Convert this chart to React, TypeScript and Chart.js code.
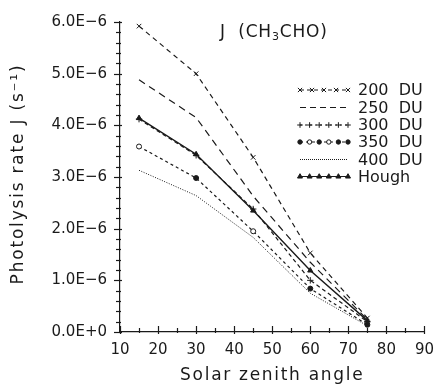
import React, { useEffect, useRef } from "react";
import { Chart, registerables } from "chart.js";

Chart.register(...registerables);

const angles = [15, 30, 45, 60, 75];
const du200 = [5.92e-6, 5.0e-6, 3.38e-6, 1.53e-6, 0.27e-6];
const du250 = [4.88e-6, 4.15e-6, 2.63e-6, 1.35e-6, 0.24e-6];
const du300 = [4.12e-6, 3.42e-6, 2.38e-6, 1.0e-6, 0.2e-6];
const du350 = [3.59e-6, 2.98e-6, 1.95e-6, 0.84e-6, 0.14e-6];
const du400 = [3.13e-6, 2.64e-6, 1.83e-6, 0.75e-6, 0.12e-6];
const hough = [4.14e-6, 3.44e-6, 2.35e-6, 1.19e-6, 0.22e-6];

const seriesLabels = ["200  DU", "250  DU", "300  DU", "350  DU", "400  DU", "Hough"];
const titleMain = "J  (CH";
const titleSub = "3";
const titleEnd = "CHO)";
const xTitle = "Solar zenith angle";
const yTitle = "Photolysis rate J (s\u207B\u00B9)";

const INK = "#1a1a1a";
const FONT = "'DejaVu Sans', sans-serif";

function fmtY(v: number): string {
  const n = Math.round(v / 1e-7) / 10;
  if (n === 0) return "0.0E+0";
  return n.toFixed(1) + "E\u22126";
}

function marker(ctx: CanvasRenderingContext2D, style: string, x: number, y: number, r: number, fill: string) {
  ctx.save();
  ctx.strokeStyle = INK;
  ctx.fillStyle = fill;
  ctx.lineWidth = 1;
  ctx.setLineDash([]);
  ctx.beginPath();
  if (style === "cross") {
    ctx.moveTo(x - r, y);
    ctx.lineTo(x + r, y);
    ctx.moveTo(x, y - r);
    ctx.lineTo(x, y + r);
    ctx.stroke();
  } else if (style === "crossRot") {
    const d = r * 0.75;
    ctx.moveTo(x - d, y - d);
    ctx.lineTo(x + d, y + d);
    ctx.moveTo(x - d, y + d);
    ctx.lineTo(x + d, y - d);
    ctx.stroke();
  } else if (style === "circle") {
    ctx.arc(x, y, r, 0, Math.PI * 2);
    ctx.fill();
    ctx.stroke();
  } else if (style === "triangle") {
    ctx.moveTo(x, y - r);
    ctx.lineTo(x + r * 0.9, y + r * 0.55);
    ctx.lineTo(x - r * 0.9, y + r * 0.55);
    ctx.closePath();
    ctx.fill();
    ctx.stroke();
  }
  ctx.restore();
}

export default function App() {
  const ref = useRef<HTMLCanvasElement | null>(null);

  useEffect(() => {
    if (!ref.current) return;

    const legendStyles = [
      { dash: [4, 3], point: "crossRot", n: 5, fills: [] as string[] },
      { dash: [6, 4], point: "", n: 0, fills: [] as string[] },
      { dash: [2, 3], point: "cross", n: 6, fills: [] as string[] },
      { dash: [3, 3], point: "circle", n: 6, fills: [INK, "#fff", INK, "#fff", INK, INK] },
      { dash: [1, 1], point: "", n: 0, fills: [] as string[] },
      { dash: [] as number[], point: "triangle", n: 6, fills: [] as string[] },
    ];

    const overlay = {
      id: "overlay",
      afterDraw(chart: any) {
        const ctx = chart.ctx as any;
        const xs = chart.scales.x;
        const ys = chart.scales.y;
        ctx.save();
        ctx.strokeStyle = INK;
        ctx.lineWidth = 1.2;
        for (let i = 0; i <= 30; i++) {
          const v = i * 0.2e-6;
          const py = Math.round(ys.getPixelForValue(v)) + 0.5;
          const major = i % 5 === 0;
          ctx.beginPath();
          ctx.moveTo(xs.left - (major ? 6 : 4), py);
          ctx.lineTo(xs.left + (major ? 2 : 1), py);
          ctx.stroke();
        }
        for (let v = 10; v <= 90; v += 5) {
          const px = Math.round(xs.getPixelForValue(v)) + 0.5;
          const major = v % 10 === 0;
          ctx.beginPath();
          ctx.moveTo(px, ys.bottom + (major ? 2 : 1));
          ctx.lineTo(px, ys.bottom - (major ? 6 : 4));
          ctx.stroke();
        }

        ctx.fillStyle = INK;
        // axis titles
        ctx.save();
        ctx.letterSpacing = "1.7px";
        ctx.font = "17px " + FONT;
        ctx.textAlign = "center";
        ctx.textBaseline = "middle";
        ctx.fillText(xTitle, (xs.left + xs.right) / 2, 376);
        ctx.translate(19, 174);
        ctx.rotate(-Math.PI / 2);
        ctx.font = "17px " + FONT;
        ctx.letterSpacing = "1.8px";
        ctx.fillText(yTitle, 0, 0);
        ctx.restore();

        // chart title
        ctx.save();
        ctx.letterSpacing = "0.8px";
        ctx.textBaseline = "alphabetic";
        ctx.textAlign = "left";
        ctx.font = "17px " + FONT;
        let tx = 220;
        const ty = 37;
        ctx.fillText(titleMain, tx, ty);
        tx += ctx.measureText(titleMain).width;
        ctx.font = "11px " + FONT;
        ctx.fillText(titleSub, tx, ty + 3);
        tx += ctx.measureText(titleSub).width;
        ctx.font = "17px " + FONT;
        ctx.fillText(titleEnd, tx, ty);
        ctx.restore();

        // legend
        const lx0 = 300;
        const lx1 = 348;
        const rows = [90, 107.5, 125, 142, 159.5, 176.5];
        ctx.font = "16px " + FONT;
        ctx.textBaseline = "middle";
        rows.forEach((ry, i) => {
          const st = legendStyles[i];
          ctx.save();
          ctx.setLineDash(st.dash);
          ctx.lineWidth = 1.1;
          ctx.beginPath();
          ctx.moveTo(lx0, ry);
          ctx.lineTo(lx1, ry);
          ctx.stroke();
          ctx.restore();
          for (let k = 0; k < st.n; k++) {
            const px = lx0 + ((lx1 - lx0) * k) / (st.n - 1);
            const fill = st.fills.length ? st.fills[k] : INK;
            marker(ctx, st.point, px, ry, st.point === "circle" ? 2.2 : 2.8, fill);
          }
          ctx.fillStyle = INK;
          ctx.textAlign = "left";
          ctx.fillText(seriesLabels[i], 358, ry + 1);
        });
        ctx.restore();
      },
    };

    const base = {
      borderColor: INK,
      borderWidth: 1.2,
      pointBorderColor: INK,
      pointBorderWidth: 1,
      fill: false,
      tension: 0,
    };

    const chart = new Chart(ref.current, {
      type: "line",
      data: {
        labels: angles,
        datasets: [
          {
            ...base,
            label: seriesLabels[0],
            data: angles.map((a, i) => ({ x: a, y: du200[i] })),
            borderDash: [5, 4],
            pointStyle: "crossRot",
            pointRadius: 3.2,
            pointBackgroundColor: INK,
          },
          {
            ...base,
            label: seriesLabels[1],
            data: angles.map((a, i) => ({ x: a, y: du250[i] })),
            borderDash: [7, 5],
            pointRadius: 0,
          },
          {
            ...base,
            label: seriesLabels[2],
            data: angles.map((a, i) => ({ x: a, y: du300[i] })),
            borderDash: [4, 3],
            pointStyle: "cross",
            pointRadius: 3.2,
            pointBackgroundColor: INK,
          },
          {
            ...base,
            label: seriesLabels[3],
            data: angles.map((a, i) => ({ x: a, y: du350[i] })),
            borderDash: [3, 3],
            pointStyle: "circle",
            pointRadius: 2.5,
            pointBackgroundColor: ["#fff", INK, "#fff", INK, INK],
          },
          {
            ...base,
            label: seriesLabels[4],
            data: angles.map((a, i) => ({ x: a, y: du400[i] })),
            borderDash: [1, 1.5],
            borderWidth: 1,
            pointRadius: 0,
          },
          {
            ...base,
            label: seriesLabels[5],
            data: angles.map((a, i) => ({ x: a, y: hough[i] })),
            borderWidth: 1.4,
            pointStyle: "triangle",
            pointRadius: 3,
            pointBackgroundColor: INK,
          },
        ],
      },
      options: {
        animation: false,
        responsive: false,
        maintainAspectRatio: false,
        events: [],
        layout: { autoPadding: false, padding: { top: 21, right: 13, left: 0, bottom: 0 } },
        plugins: {
          legend: { display: false },
          title: { display: false },
          tooltip: { enabled: false },
        },
        scales: {
          x: {
            type: "linear",
            min: 10,
            max: 90,
            grid: { display: false, drawTicks: false },
            border: { display: true, color: INK, width: 1.2 },
            ticks: {
              stepSize: 10,
              color: INK,
              font: { family: FONT, size: 15 },
              padding: 9,
              maxRotation: 0,
            },
            title: { display: false },
            afterFit: (s: any) => {
              s.height = 55;
            },
          },
          y: {
            type: "linear",
            min: 0,
            max: 6e-6,
            grid: { display: false, drawTicks: false },
            border: { display: true, color: INK, width: 1.2 },
            ticks: {
              stepSize: 1e-6,
              color: INK,
              font: { family: FONT, size: 15 },
              padding: 13,
              callback: (v: any) => fmtY(Number(v)),
            },
            title: { display: false },
            afterFit: (s: any) => {
              s.width = 120;
            },
          },
        },
      },
      plugins: [overlay],
    } as any);

    return () => chart.destroy();
  }, []);

  return (
    <div style={{ position: "fixed", left: 0, top: 0, width: 443, height: 387, background: "#fff" }}>
      <canvas ref={ref} width={443} height={387} style={{ display: "block" }} />
    </div>
  );
}
